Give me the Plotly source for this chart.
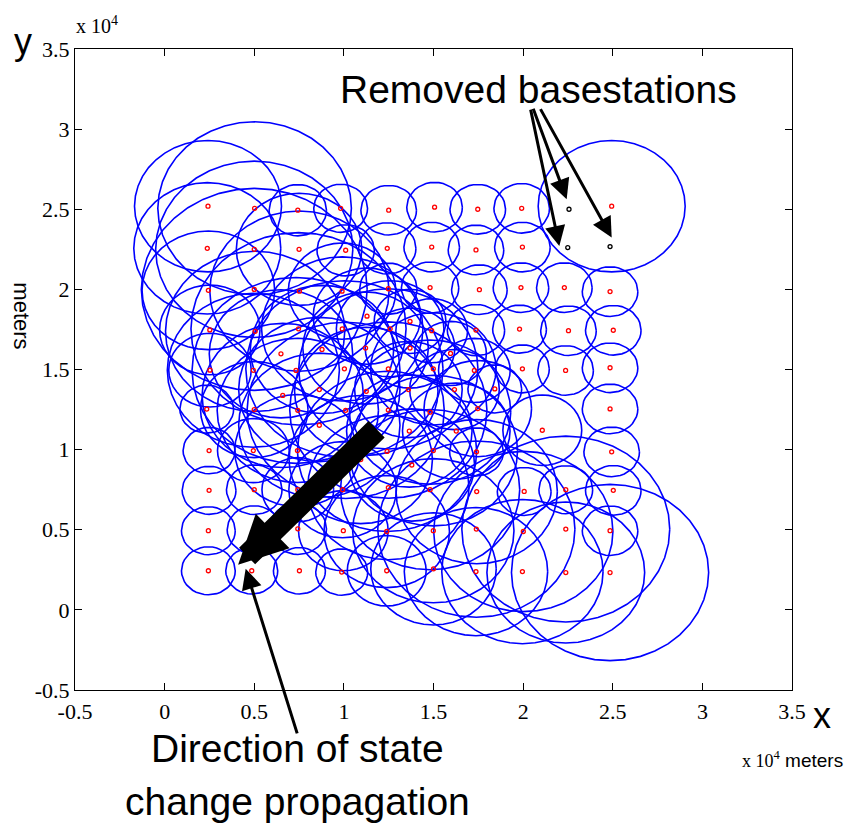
import numpy as np
import plotly.graph_objects as go

# ---- base stations (meters) ----
bs_x = [
    # row y~25000
    2420, 5020, 7430, 9820, 12500, 15060, 17470, 19920, 24940,
    # row y~22500
    2380, 5000, 7500, 10100, 12420, 14900, 17370, 19960,
    # row y~20000
    2440, 5000, 7520, 9900, 12480, 14810, 17560, 19880, 22300, 24850,
    # row y~17500
    2520, 5050, 7470, 9910, 12580, 14900, 17370, 19800, 22530, 25030,
    # row y~15000
    2530, 4950, 7330, 10030, 12480, 14990, 17280, 19960, 22370, 24850,
    # row y~12500
    2350, 5000, 7430, 10100, 12480, 14810, 17470, 24850,
    # row y~10000
    2480, 4950, 7410, 12410, 14990, 17400, 24940,
    # row y~7500
    2480, 5000, 7430, 9930, 12480, 14810, 17410, 20060, 22380, 25030,
    # row y~5000
    2440, 4990, 7430, 9970, 12390, 14990, 17390, 20010, 22380, 24850,
    # row y~2500
    2440, 4860, 7520, 9880, 12390, 15000, 17370, 19960, 22380, 24850,
    # added stations in the middle band
    11290, 13690, 6490, 8780, 11210, 13690, 15950, 8630, 11250, 13600,
    16170, 18420, 6590, 8630, 13650, 16270, 21070, 10940, 13790,
]
bs_y = [
    25190, 25060, 24940, 25060, 24940, 25130, 25000, 25060, 25190,
    22560, 22500, 22500, 22440, 22560, 22640, 22460, 22640,
    19940, 20000, 19890, 19890, 20040, 20110, 19980, 20110, 20110, 19860,
    17470, 17380, 17540, 17530, 17540, 17420, 17460, 17520, 17420, 17450,
    14960, 14950, 14940, 15040, 15040, 15040, 14940, 15040, 14940, 15110,
    12530, 12500, 12450, 12450, 12470, 12340, 12560, 12540,
    9940, 9940, 9940, 9890, 9940, 9860, 9860,
    7460, 7500, 7500, 7500, 7630, 7500, 7380, 7390, 7500, 7460,
    4940, 5000, 5060, 4940, 4890, 4940, 5040, 4890, 5040, 4940,
    2440, 2440, 2440, 2360, 2440, 2560, 2390, 2390, 2330, 2330,
    18330, 18000, 15980, 16250, 16340, 16340, 16000, 13750, 13640, 13750,
    13750, 13790, 13380, 11520, 11160, 11160, 11210, 9380, 9040,
]
bs_r = [
    4100, 5400, 1600, 1500, 1550, 1550, 1550, 1550, 4100,
    4100, 5500, 3500, 1600, 1600, 1550, 1550, 1550,
    3700, 6300, 5000, 3000, 1600, 1600, 1550, 1550, 1550, 1550,
    2800, 5000, 6000, 4500, 3000, 2000, 1600, 1500, 1550, 1550,
    2300, 4800, 5800, 5500, 5000, 3500, 2000, 1500, 1550, 1550,
    1500, 3000, 4500, 5500, 5500, 4500, 3000, 1550,
    1450, 2000, 3500, 5000, 4700, 1500, 1550,
    1500, 1550, 2000, 3000, 4500, 5000, 4500, 1500, 1500, 1550,
    1500, 1500, 1600, 2500, 3500, 4500, 5500, 5000, 5800, 1550,
    1500, 1450, 1450, 1450, 2200, 3500, 4000, 4500, 4400, 5500,
    3000, 2000, 4000, 4000, 3500, 2500, 2000, 4500, 4000, 3000,
    2500, 1500, 4500, 4500, 3500, 3000, 2200, 4000, 3500,
]

# removed base stations
removed_x = [22560, 22490, 24850]
removed_y = [25000, 22610, 22670]

# axis ticks (x 10^4 meters)
tick_vals = [-5000, 0, 5000, 10000, 15000, 20000, 25000, 30000, 35000]
tick_text = ["-0.5", "0", "0.5", "1", "1.5", "2", "2.5", "3", "3.5"]

# ---- build circles ----
theta = np.linspace(0, 2 * np.pi, 41)
cx_all, cy_all = [], []
for cx, cy, r in zip(bs_x, bs_y, bs_r):
    cx_all += list(cx + r * np.cos(theta)) + [None]
    cy_all += list(cy + r * np.sin(theta)) + [None]

fig = go.Figure()
fig.add_trace(go.Scatter(x=cx_all, y=cy_all, mode="lines",
                         line=dict(color="#0000FF", width=1.6),
                         hoverinfo="skip"))
fig.add_trace(go.Scatter(x=bs_x, y=bs_y, mode="markers",
                         marker=dict(symbol="circle-open", size=4, color="#FF0000",
                                     line=dict(width=1.3, color="#FF0000"))))
fig.add_trace(go.Scatter(x=removed_x, y=removed_y, mode="markers",
                         marker=dict(symbol="circle-open", size=4, color="black",
                                     line=dict(width=1.3, color="black"))))

axis_common = dict(
    range=[-5000, 35000], tickvals=tick_vals, ticktext=tick_text,
    ticks="inside", ticklen=7, tickcolor="black", mirror="ticks",
    showline=True, linecolor="black", linewidth=1,
    showgrid=False, zeroline=False,
    tickfont=dict(family="Liberation Serif", size=22, color="black"),
)
fig.update_xaxes(ticklabelstandoff=2, **axis_common)
fig.update_yaxes(**axis_common)

sans = "Liberation Sans"
serif = "Liberation Serif"
ann = []
# axis letters and exponent labels
ann.append(dict(text="y", xref="paper", yref="paper", x=-0.072, y=1.012,
                xanchor="center", yanchor="middle", showarrow=False,
                font=dict(family=sans, size=36, color="black")))
ann.append(dict(text="x 10<sup>4</sup>", xref="paper", yref="paper", x=-0.001, y=1.016,
                xanchor="left", yanchor="bottom", showarrow=False,
                font=dict(family=serif, size=20, color="black")))
ann.append(dict(text="x", xref="paper", yref="paper", x=1.042, y=-0.04,
                xanchor="center", yanchor="middle", showarrow=False,
                font=dict(family=sans, size=36, color="black")))
ann.append(dict(text="x 10<sup>4</sup><span style='font-family:Liberation Sans;font-size:19px'> meters</span>",
                xref="paper", yref="paper", x=0.928, y=-0.108,
                xanchor="left", yanchor="middle", showarrow=False,
                font=dict(family=serif, size=18, color="black")))
ann.append(dict(text="meters", xref="paper", yref="paper", x=-0.074, y=0.583,
                xanchor="center", yanchor="middle", textangle=90, showarrow=False,
                font=dict(family=sans, size=22, color="black")))
# callout texts
ann.append(dict(text="Removed basestations", xref="x", yref="y", x=20830, y=32500,
                xanchor="center", yanchor="middle", showarrow=False,
                font=dict(family=sans, size=39, color="black")))
ann.append(dict(text="Direction of state", xref="paper", yref="paper", x=0.311, y=-0.091,
                xanchor="center", yanchor="middle", showarrow=False,
                font=dict(family=sans, size=39, color="black")))
ann.append(dict(text="change propagation", xref="paper", yref="paper", x=0.311, y=-0.174,
                xanchor="center", yanchor="middle", showarrow=False,
                font=dict(family=sans, size=39, color="black")))
# arrows
ann.append(dict(text="", x=4100, y=2810, xref="x", yref="y", ax=140, ay=-137,
                showarrow=True, arrowhead=2, arrowwidth=23, arrowsize=0.42,
                arrowcolor="black"))
ann.append(dict(text="", x=4520, y=2560, xref="x", yref="y", ax=52, ay=166,
                showarrow=True, arrowhead=2, arrowwidth=3, arrowsize=1.35,
                arrowcolor="black"))
ann.append(dict(text="", x=22430, y=25620, xref="x", yref="y", ax=-34, ay=-92,
                showarrow=True, arrowhead=2, arrowwidth=3, arrowsize=1.35,
                arrowcolor="black"))
ann.append(dict(text="", x=22020, y=22700, xref="x", yref="y", ax=-29, ay=-138,
                showarrow=True, arrowhead=2, arrowwidth=3, arrowsize=1.35,
                arrowcolor="black"))
ann.append(dict(text="", x=24940, y=23230, xref="x", yref="y", ax=-72, ay=-130,
                showarrow=True, arrowhead=2, arrowwidth=3, arrowsize=1.35,
                arrowcolor="black"))

fig.update_layout(width=859, height=835, margin=dict(l=75, r=67, t=49, b=145),
                  plot_bgcolor="white", paper_bgcolor="white", showlegend=False,
                  annotations=ann)
fig.write_html("out.html")
